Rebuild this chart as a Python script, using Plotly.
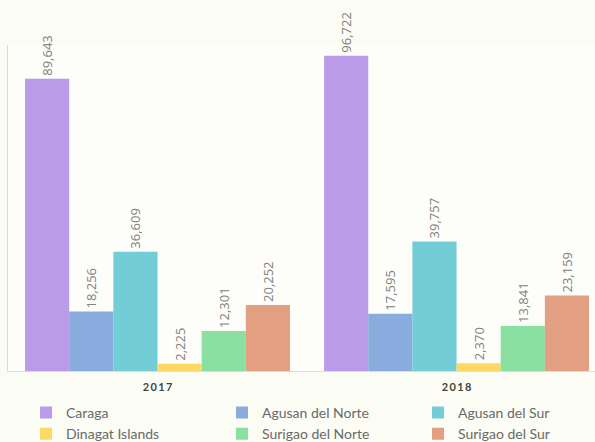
import plotly.graph_objects as go

years = ["2017", "2018"]
year_labels = ["2\u20090\u20091\u20097", "2\u20090\u20091\u20098"]
series_names = ["Caraga", "Agusan del Norte", "Agusan del Sur",
                "Dinagat Islands", "Surigao del Norte", "Surigao del Sur"]
caraga = [89643, 96722]
agusan_norte = [18256, 17595]
agusan_sur = [36609, 39757]
dinagat = [2225, 2370]
surigao_norte = [12301, 13841]
surigao_sur = [20252, 23159]
colors = ["#b99be9", "#8aabdd", "#73cdd7", "#fed865", "#89e0a0", "#e39f82"]
legend_cols = ["legend", "legend2", "legend3", "legend", "legend2", "legend3"]

values = [caraga, agusan_norte, agusan_sur, dinagat, surigao_norte, surigao_sur]

fig = go.Figure()
for name, vals, col, lg in zip(series_names, values, colors, legend_cols):
    fig.add_trace(go.Bar(
        x=years, y=vals, name=name, legend=lg,
        marker=dict(color=col, line=dict(width=0)),
        text=[f"{v:,}" for v in vals],
        textposition="outside", textangle=-90,
        textfont=dict(family="Open Sans", size=13, color="#808080"),
        cliponaxis=False,
    ))

legend_common = dict(orientation="v", xref="container", yref="container",
                     xanchor="left", y=0.102, yanchor="top",
                     font=dict(family="Lato", size=14, color="#6a6a6a"),
                     bgcolor="rgba(0,0,0,0)", itemwidth=30, tracegroupgap=0)

fig.update_layout(
    width=595, height=442,
    margin=dict(l=8, r=0, t=45, b=71, autoexpand=False),
    paper_bgcolor="#fbfcf4",
    plot_bgcolor="#fdfdf9",
    barmode="group", bargap=0.114, bargroupgap=0,
    showlegend=True,
    legend=dict(x=26 / 595, **legend_common),
    legend2=dict(x=222 / 595, **legend_common),
    legend3=dict(x=418 / 595, **legend_common),
    xaxis=dict(type="category", range=[-0.5, 1.463], showline=True, automargin=False,
               linecolor="#dcdcdc", linewidth=1, ticks="", showgrid=False,
               tickmode="array", tickvals=years, ticktext=year_labels,
               ticklabelstandoff=6,
               tickfont=dict(family="Lato", size=11, color="#444444", weight="bold")),
    yaxis=dict(range=[0, 100000], showline=True, linecolor="#dcdcdc", linewidth=1,
               automargin=False,
               showticklabels=False, showgrid=False, zeroline=False, ticks=""),
)

fig.write_html(
    "out.html",
    config={"displayModeBar": False},
    post_script="document.body.style.margin='0';document.body.style.background='#fbfcf4';",
)
